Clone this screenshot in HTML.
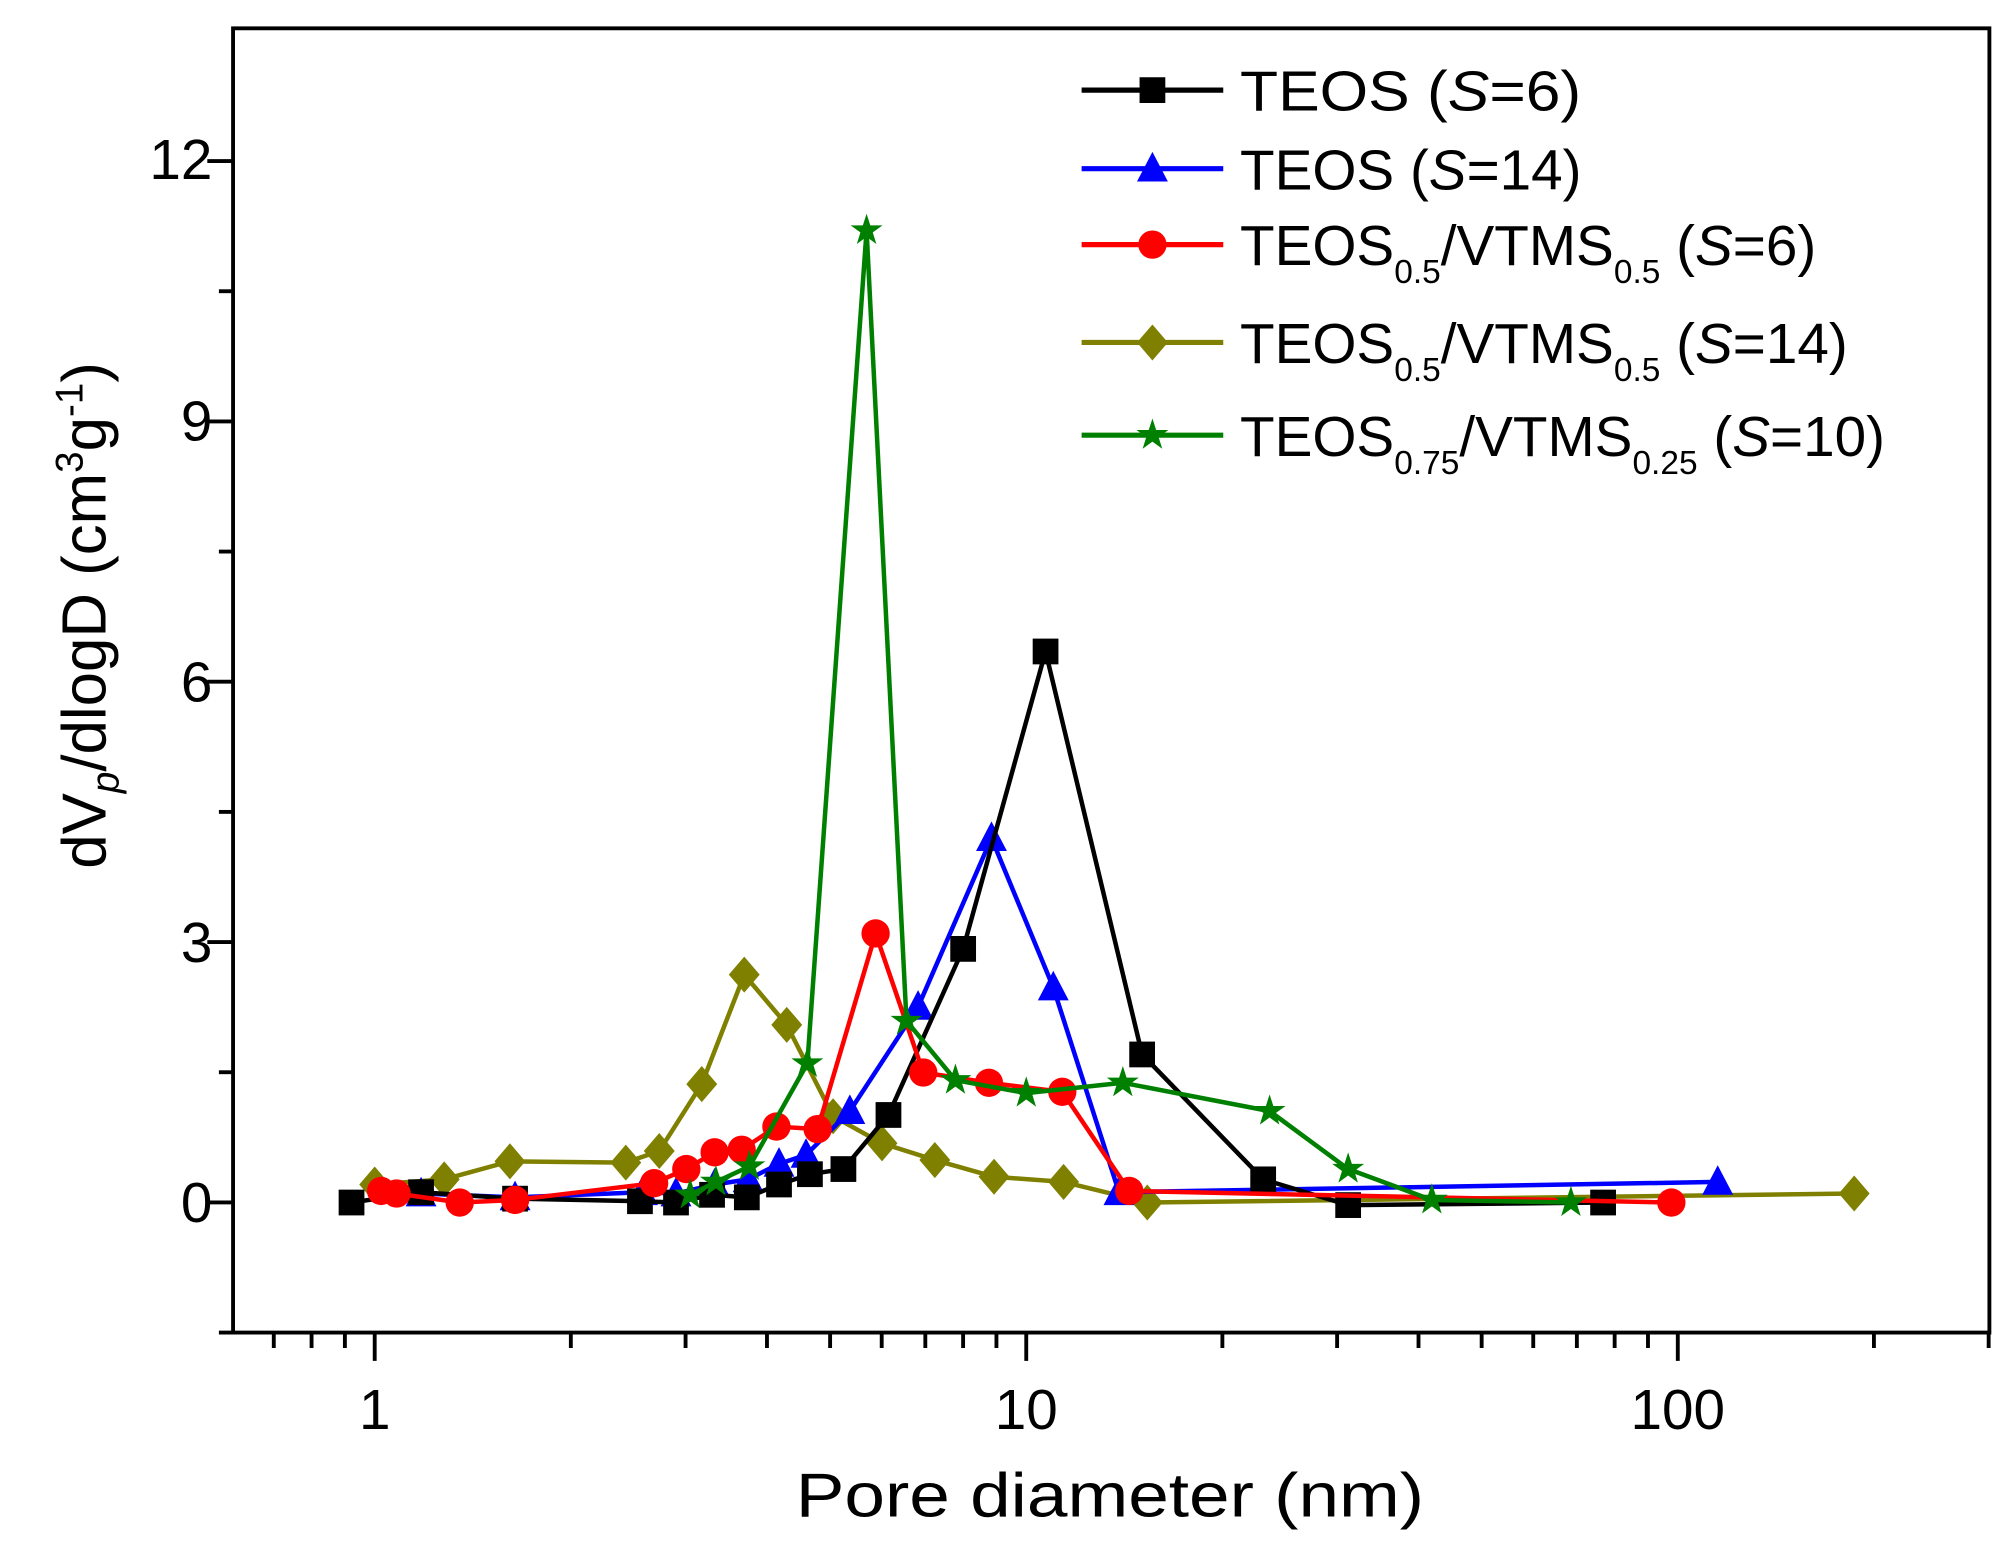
<!DOCTYPE html>
<html><head><meta charset="utf-8"><style>html,body{margin:0;padding:0;background:#fff}svg{display:block}text{font-family:"Liberation Sans",sans-serif}</style></head>
<body>
<svg id="s" xmlns="http://www.w3.org/2000/svg" width="2010" height="1545" viewBox="0 0 1561 1200" preserveAspectRatio="none">
<rect width="1561" height="1200" fill="#fff"/>
<g id="g"></g>
<g font-size="44" fill="#000">
<text x="291" y="1110" text-anchor="middle">1</text>
<text x="797" y="1110" text-anchor="middle">10</text>
<text x="1303" y="1110" text-anchor="middle">100</text>
<text x="165" y="949" text-anchor="end">0</text>
<text x="165" y="747" text-anchor="end">3</text>
<text x="165" y="545" text-anchor="end">6</text>
<text x="165" y="342" text-anchor="end">9</text>
<text x="165" y="139" text-anchor="end">12</text>
</g>
<text x="862" y="1178" text-anchor="middle" font-size="48" textLength="488" lengthAdjust="spacingAndGlyphs">Pore diameter (nm)</text>
<text transform="translate(82,478) rotate(-90)" text-anchor="middle" font-size="48">dV<tspan font-size="30" font-style="italic" dy="10">p</tspan><tspan dy="-10">/dlogD (cm</tspan><tspan font-size="30" dy="-18">3</tspan><tspan dy="18">g</tspan><tspan font-size="30" dy="-18">-1</tspan><tspan dy="18">)</tspan></text>
<g font-size="44" fill="#000">
<text x="963" y="86" textLength="265" lengthAdjust="spacingAndGlyphs">TEOS (<tspan font-style="italic">S</tspan>=6)</text>
<text x="963" y="147">TEOS (<tspan font-style="italic">S</tspan>=14)</text>
<text x="963" y="206">TEOS<tspan font-size="26" dy="14">0.5</tspan><tspan dy="-14">/VTMS</tspan><tspan font-size="26" dy="14">0.5</tspan><tspan dy="-14"> (</tspan><tspan font-style="italic">S</tspan>=6)</text>
<text x="963" y="282">TEOS<tspan font-size="26" dy="14">0.5</tspan><tspan dy="-14">/VTMS</tspan><tspan font-size="26" dy="14">0.5</tspan><tspan dy="-14"> (</tspan><tspan font-style="italic">S</tspan>=14)</text>
<text x="963" y="354">TEOS<tspan font-size="26" dy="14">0.75</tspan><tspan dy="-14">/VTMS</tspan><tspan font-size="26" dy="14">0.25</tspan><tspan dy="-14"> (</tspan><tspan font-style="italic">S</tspan>=10)</text>
</g>
</svg>
<script>
const g=document.getElementById('g');let h='';
const L=181,R=1545,T=22,B=1035;
h+=`<rect x="${L}" y="${T}" width="${R-L}" height="${B-T}" fill="none" stroke="#000" stroke-width="3"/>`;
const X=v=>291+506*Math.log10(v);
for(let d=-1;d<=2;d++)for(let k=1;k<10;k++){const v=k*Math.pow(10,d);const x=X(v);if(x<L-1||x>R+1)continue;h+=`<line x1="${x}" y1="${B}" x2="${x}" y2="${B+(k==1?22:12)}" stroke="#000" stroke-width="3"/>`;}
for(let i=0;i<10;i++){const y=B-i*101.1;if(y<T)break;h+=`<line x1="${L}" y1="${y}" x2="${L-(i%2==1?20:11)}" y2="${y}" stroke="#000" stroke-width="3"/>`;}
function mk(t,x,y,c){if(t=='s')return `<rect x="${x-10}" y="${y-10}" width="20" height="20" fill="${c}"/>`;
if(t=='t')return `<polygon points="${x},${y-13} ${x+12},${y+10} ${x-12},${y+10}" fill="${c}"/>`;
if(t=='c')return `<circle cx="${x}" cy="${y}" r="11" fill="${c}"/>`;
if(t=='d')return `<polygon points="${x},${y-14} ${x+12},${y} ${x},${y+14} ${x-12},${y}" fill="${c}"/>`;
let p=[];for(let i=0;i<10;i++){const r=i%2?5:13,a=-Math.PI/2+i*Math.PI/5;p.push((x+r*Math.cos(a)).toFixed(1)+','+(y+r*Math.sin(a)).toFixed(1));}return `<polygon points="${p.join(' ')}" fill="${c}"/>`;}
const S=[
['#808000','d',[[291,920],[345,916],[396,902],[486,903],[512,894],[545,842],[578,757],[611,796],[647,867],[685,888],[726,901],[772,914],[826,918],[891,934],[1440,927]]],
['#0000ff','t',[[327,927],[400,930],[499,926],[525,927],[555,920],[581,916],[605,904],[626,897],[660,863],[713,782],[770,651],[818,767],[869,926],[1334,918]]],
['#000','s',[[273,934],[327,926],[400,931],[497,933],[525,934],[553,928],[580,930],[605,920],[629,912],[655,908],[690,866],[748,737],[812,506],[887,819],[981,916],[1047,936],[1245,934]]],
['#ff0000','c',[[296,925],[308,927],[357,934],[400,932],[508,919],[533,908],[555,895],[576,893],[603,875],[635,877],[680,725],[717,833],[768,841],[825,848],[877,925],[1298,934]]],
['#008000','*',[[536,928],[556,918],[582,906],[627,826],[673,179],[704,793],[742,839],[797,849],[872,841],[986,863],[1047,908],[1112,932],[1220,934]]]];
for(const [c,t,p] of S){h+=`<polyline points="${p.map(q=>q.join(',')).join(' ')}" fill="none" stroke="${c}" stroke-width="3.5" stroke-linejoin="round"/>`;for(const q of p)h+=mk(t,q[0],q[1],c);}
const LG=[['#000','s',70],['#0000ff','t',131],['#ff0000','c',190],['#808000','d',266],['#008000','*',338]];
for(const [c,t,y] of LG){h+=`<line x1="840" y1="${y}" x2="950" y2="${y}" stroke="${c}" stroke-width="4"/>`+mk(t,895,y,c);}
g.innerHTML=h;
</script>
</body></html>
